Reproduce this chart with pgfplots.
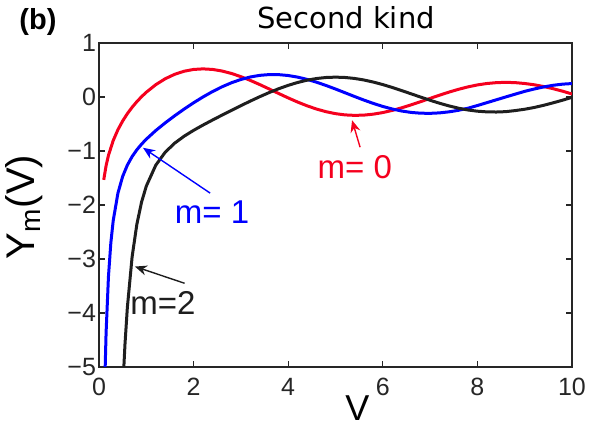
\documentclass[border=0pt]{standalone}
\usepackage{fontspec}
\setmainfont{Liberation Sans}
\newfontfamily\dejavu{DejaVu Sans}
\usepackage{pgfplots}
\pgfplotsset{compat=1.18}
\usetikzlibrary{arrows.meta}

\definecolor{axgray}{RGB}{38,38,38}
\definecolor{ired}{RGB}{245,0,30}
\definecolor{iblue}{RGB}{0,0,255}
\definecolor{iblack}{RGB}{30,30,30}

% Y_m(V)
\pgfplotstableread{
V Y
0.10 -1.5342
0.15 -1.2710
0.20 -1.0811
0.30 -0.8073
0.40 -0.6060
0.50 -0.4445
0.60 -0.3085
0.70 -0.1907
0.80 -0.0868
0.90 0.0056
1.00 0.0883
1.20 0.2281
1.40 0.3379
1.60 0.4204
1.80 0.4774
2.00 0.5104
2.20 0.5208
2.40 0.5104
2.60 0.4813
2.80 0.4359
3.00 0.3769
3.20 0.3071
3.40 0.2296
3.60 0.1477
3.80 0.0645
4.00 -0.0169
4.20 -0.0938
4.40 -0.1633
4.60 -0.2235
4.80 -0.2723
5.00 -0.3085
5.20 -0.3313
5.40 -0.3402
5.60 -0.3354
5.80 -0.3177
6.00 -0.2882
6.20 -0.2483
6.40 -0.2000
6.60 -0.1452
6.80 -0.0864
7.00 -0.0259
7.20 0.0339
7.40 0.0907
7.60 0.1424
7.80 0.1873
8.00 0.2235
8.20 0.2499
8.40 0.2657
8.60 0.2715
8.80 0.2660
9.00 0.2499
9.20 0.2267
9.40 0.1940
9.60 0.1540
9.80 0.1080
10.00 0.0557
}\mzero

\pgfplotstableread{
V Y
0.100 -6.4590
0.125 -5.2000
0.150 -4.3640
0.200 -3.3238
0.250 -2.7041
0.300 -2.2931
0.400 -1.7809
0.500 -1.4715
0.600 -1.2604
0.700 -1.1032
0.800 -0.9781
0.900 -0.8731
1.000 -0.7812
1.200 -0.6211
1.400 -0.4791
1.600 -0.3476
1.800 -0.2237
2.000 -0.1070
2.200 0.0015
2.400 0.1005
2.600 0.1884
2.800 0.2635
3.000 0.3247
3.200 0.3707
3.400 0.4010
3.600 0.4154
3.800 0.4141
4.000 0.3979
4.200 0.3680
4.400 0.3260
4.600 0.2737
4.800 0.2136
5.000 0.1479
5.200 0.0792
5.400 0.0101
5.600 -0.0568
5.800 -0.1192
6.000 -0.1750
6.200 -0.2223
6.400 -0.2596
6.600 -0.2857
6.800 -0.2998
7.000 -0.3027
7.200 -0.2940
7.400 -0.2750
7.600 -0.2460
7.800 -0.2080
8.000 -0.1581
8.200 -0.1050
8.400 -0.0520
8.600 0.0010
8.800 0.0530
9.000 0.1043
9.200 0.1480
9.400 0.1860
9.600 0.2170
9.800 0.2380
10.000 0.2490
}\mone

\pgfplotstableread{
V Y
0.45 -6.6300
0.50 -5.4414
0.55 -4.5690
0.60 -3.8928
0.70 -2.9613
0.80 -2.3585
0.90 -1.9458
1.00 -1.6507
1.20 -1.2633
1.40 -1.0223
1.60 -0.8549
1.80 -0.7260
2.00 -0.6174
2.20 -0.5194
2.40 -0.4266
2.60 -0.3364
2.80 -0.2477
3.00 -0.1604
3.20 -0.0754
3.40 0.0063
3.60 0.0831
3.80 0.1534
4.00 0.2159
4.20 0.2690
4.40 0.3115
4.60 0.3425
4.80 0.3613
5.00 0.3677
5.20 0.3618
5.40 0.3439
5.60 0.3151
5.80 0.2766
6.00 0.2299
6.20 0.1766
6.40 0.1189
6.60 0.0586
6.80 -0.0018
7.00 -0.0606
7.20 -0.1156
7.40 -0.1650
7.60 -0.2071
7.80 -0.2406
8.00 -0.2630
8.20 -0.2755
8.40 -0.2781
8.60 -0.2713
8.80 -0.2515
9.00 -0.2267
9.20 -0.1945
9.40 -0.1539
9.60 -0.1080
9.80 -0.0594
10.00 -0.0059
}\mtwo

\begin{document}
\begin{tikzpicture}
\begin{axis}[
  width=236.5pt, height=162pt, scale only axis,
  xmin=0, xmax=10, ymin=-5, ymax=1,
  xtick={0,2,4,6,8,10},
  xticklabels={0,2,4,6,8,10},
  ytick={-5,-4,-3,-2,-1,0,1},
  yticklabels={−5,−4,−3,−2,−1,0,1},
  tick align=inside,
  major tick length=3pt,
  axis line style={axgray, line width=0.7pt},
  every tick/.append style={axgray, line width=0.6pt},
  tick label style={font=\fontsize{12.5}{14}\selectfont, text=axgray},
  xticklabel style={yshift=-2pt},
  yticklabel style={xshift=2pt},
]
\addplot[ired, line width=1.5pt] table[x=V, y=Y] {\mzero};
\addplot[iblue, line width=1.5pt] table[x=V, y=Y] {\mone};
\addplot[iblack, line width=1.5pt] table[x=V, y=Y] {\mtwo};

\draw[ired, line width=0.7pt, -{Stealth[length=6pt,width=5pt]}]
  (axis cs:5.52,-0.93) -- (axis cs:5.35,-0.43);
\draw[iblue, line width=0.7pt, -{Stealth[length=6pt,width=5pt]}]
  (axis cs:2.35,-1.78) -- (axis cs:0.93,-0.94);
\draw[iblack, line width=0.7pt, -{Stealth[length=6pt,width=5pt]}]
  (axis cs:1.81,-3.45) -- (axis cs:0.76,-3.14);

\node[ired, font=\fontsize{16.5}{18}\selectfont] at (axis cs:5.41,-1.30) {m= 0};
\node[iblue, font=\fontsize{16.5}{18}\selectfont] at (axis cs:2.39,-2.13) {m= 1};
\node[iblack, font=\fontsize{16.5}{18}\selectfont] at (axis cs:1.35,-3.81) {m=2};
\end{axis}

\node[anchor=base, font=\dejavu\fontsize{14.5}{16}\selectfont] at (123.5pt,169.4pt) {Second kind};
\node[font=\bfseries\fontsize{14.5}{16}\selectfont] at (-30.5pt,172.5pt) {(b)};
\node[rotate=90, font=\fontsize{20}{22}\selectfont] at (-37.5pt,80pt) {Y\textsubscript{m}(V)};
\node[anchor=base, font=\fontsize{18}{20}\selectfont] at (129.25pt,-27pt) {V};

\pgfresetboundingbox
\path[use as bounding box] (-49.5pt,-30pt) rectangle (246pt,183.5pt);
\end{tikzpicture}
\end{document}
